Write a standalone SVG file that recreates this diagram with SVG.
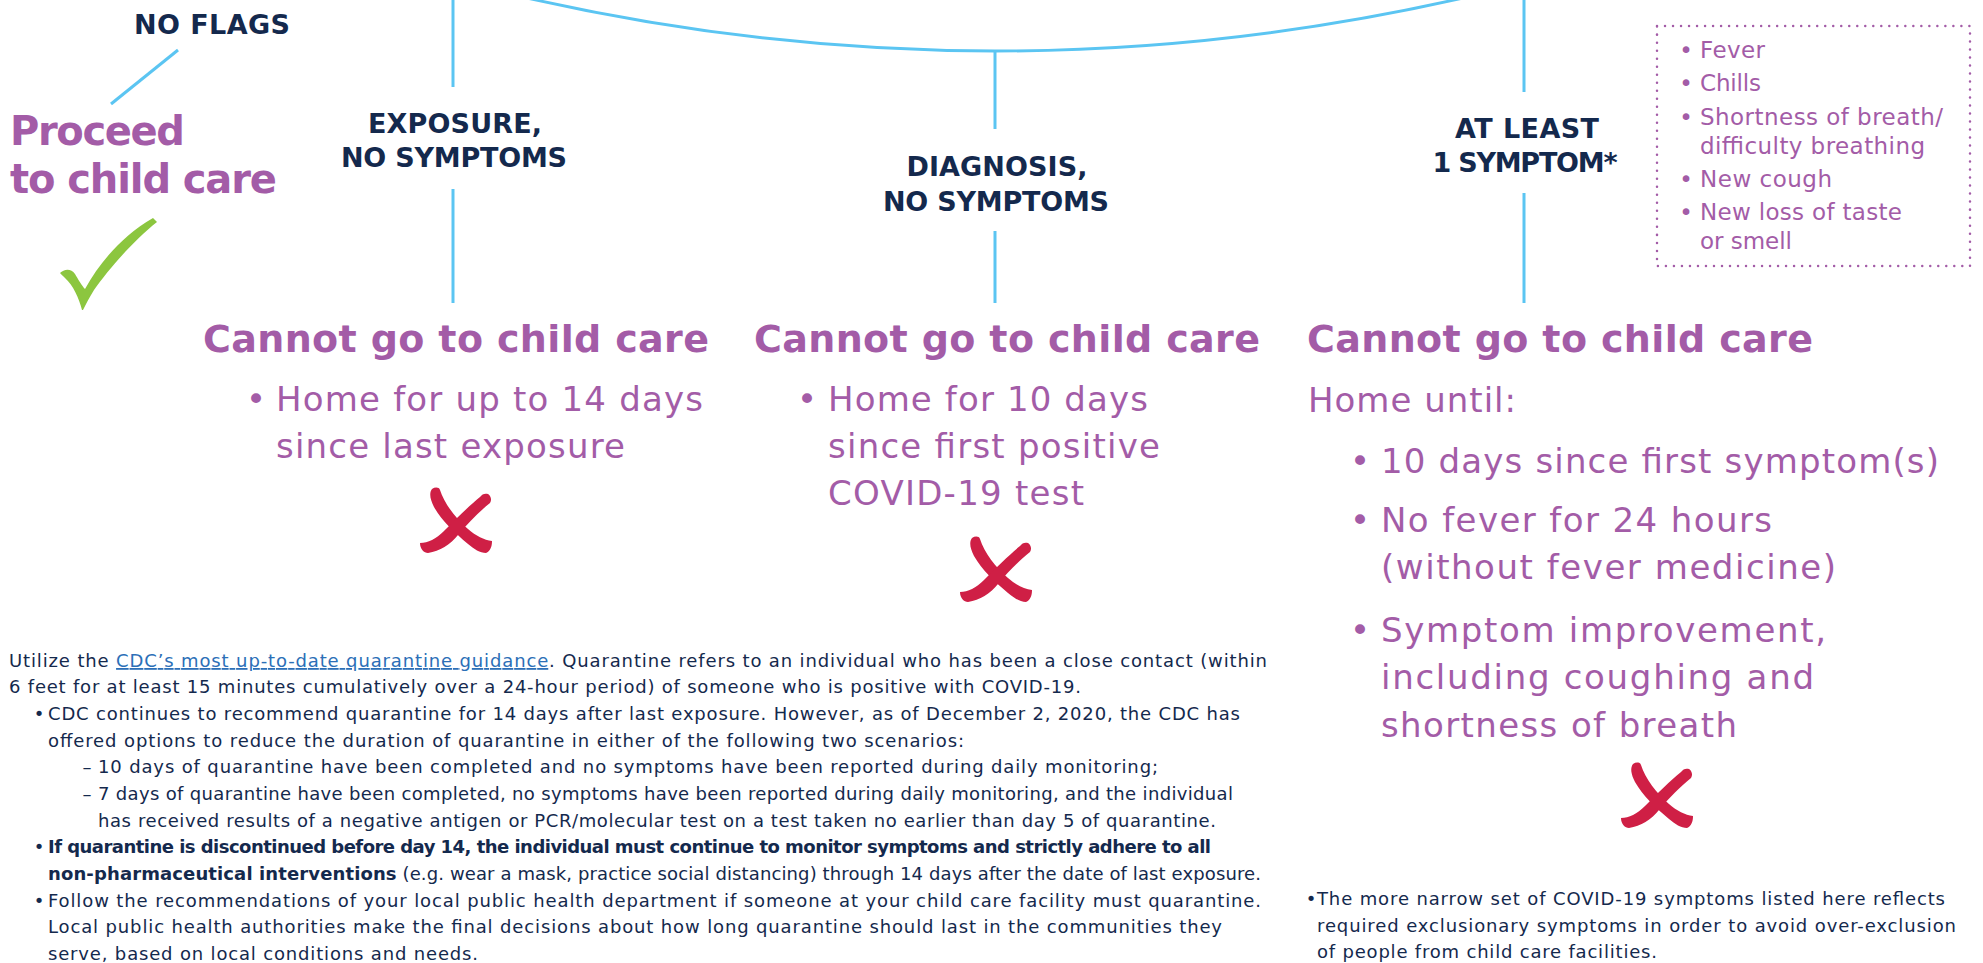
<svg xmlns="http://www.w3.org/2000/svg" xmlns:xlink="http://www.w3.org/1999/xlink" width="1983" height="963" viewBox="0 0 1983 963">
<style>
text{font-family:"DejaVu Sans","Liberation Sans",sans-serif}
.hd{font-weight:bold;font-size:27px;fill:#14294d;text-anchor:middle}
.pr{font-weight:bold;font-size:40px;fill:#a35ca7}
.big{font-weight:bold;font-size:38px;fill:#a35ca7}
.bl{font-size:34px;fill:#a35ca7}
.blt{font-size:34px;fill:#a35ca7;text-anchor:middle}
.sm{font-size:23px;fill:#a35ca7}
.smb{font-size:23px;fill:#a35ca7;text-anchor:middle}
.nt{font-size:18px;fill:#14294d}
.ntb{font-size:18px;fill:#14294d;text-anchor:middle}
.b{font-weight:bold}
.lk{fill:#2c6fb7;text-decoration:underline}
.ln{stroke:#5bc5f2;stroke-width:3;fill:none}
.x{fill:#cf1f45}
.ck{fill:#8cc63f}
</style>
<defs>
<g id="xmark">
<path d="M14,2 C17,0 21,0 22,3 C26,16 38,32 50,42 C58,49 66,53 74,54 C74,60 72,64 68,66 C62,66 56,62 50,57 C36,45 24,34 16,20 C12,12 11,6 14,2 Z"/>
<path d="M70,7 C73,9 74,13 72,16 C62,24 50,36 40,48 C32,58 22,64 10,66 C6,66 2,62 2,56 C10,56 18,52 26,44 C38,32 52,18 62,10 C64,7 67,6 70,7 Z"/>
</g>
</defs>
<rect width="1983" height="963" fill="#ffffff"/>

<g id="connectors">
<path class="ln" d="M470,-15.7 Q995,117.7 1520,-15.7"/>
<line class="ln" x1="453" y1="-2" x2="453" y2="87"/>
<line class="ln" x1="453" y1="189" x2="453" y2="303"/>
<line class="ln" x1="995" y1="51" x2="995" y2="129"/>
<line class="ln" x1="995" y1="231" x2="995" y2="303"/>
<line class="ln" x1="1524" y1="-2" x2="1524" y2="92"/>
<line class="ln" x1="1524" y1="193" x2="1524" y2="303"/>
<line class="ln" x1="178" y1="50" x2="111" y2="104"/>
</g>

<g id="no-flags">
<text class="hd" x="212" y="34" textLength="156">NO FLAGS</text>
</g>

<g id="proceed">
<text class="pr" x="10" y="145" textLength="175">Proceed</text>
<text class="pr" x="10" y="193" textLength="267">to child care</text>
<path class="ck" transform="translate(60,218)" d="M0,55 C4,51 11,50 15,56 C18,61 22,68 25,71 C40,44 62,18 93,0 L97,4 C74,22 48,52 34,72 C29,80 26,86 23,92 L22,92 C19,80 13,67 5,60 C3,58 1,56 0,55 Z"/>
</g>

<g id="exposure">
<text class="hd" x="455" y="133" textLength="174">EXPOSURE,</text>
<text class="hd" x="454" y="167" textLength="226">NO SYMPTOMS</text>
</g>

<g id="diagnosis">
<text class="hd" x="997" y="176" textLength="181">DIAGNOSIS,</text>
<text class="hd" x="996" y="211" textLength="226">NO SYMPTOMS</text>
</g>

<g id="symptom">
<text class="hd" x="1527" y="138" textLength="144">AT LEAST</text>
<text class="hd" x="1525" y="172" textLength="185">1 SYMPTOM*</text>
</g>

<g id="symptom-list">
<rect x="1657" y="26" width="313" height="240" fill="none" stroke="#a35ca7" stroke-width="2.5" stroke-linecap="round" stroke-dasharray="0.01 8"/>
<text class="smb" x="1686" y="58">•</text>
<text class="sm" x="1700" y="58" textLength="65">Fever</text>
<text class="smb" x="1686" y="91">•</text>
<text class="sm" x="1700" y="91" textLength="61">Chills</text>
<text class="smb" x="1686" y="125">•</text>
<text class="sm" x="1700" y="125" textLength="243">Shortness of breath/</text>
<text class="sm" x="1700" y="154" textLength="225">difficulty breathing</text>
<text class="smb" x="1686" y="187">•</text>
<text class="sm" x="1700" y="187" textLength="132">New cough</text>
<text class="smb" x="1686" y="220">•</text>
<text class="sm" x="1700" y="220" textLength="202">New loss of taste</text>
<text class="sm" x="1700" y="249" textLength="92">or smell</text>
</g>

<g id="outcome-exposure">
<text class="big" x="203" y="352" textLength="506">Cannot go to child care</text>
<text class="blt" x="256" y="411">•</text>
<text class="bl" x="276" y="411" textLength="427">Home for up to 14 days</text>
<text class="bl" x="276" y="458" textLength="349">since last exposure</text>
<use xlink:href="#xmark" class="x" transform="translate(418,487)"/>
</g>

<g id="outcome-diagnosis">
<text class="big" x="754" y="352" textLength="506">Cannot go to child care</text>
<text class="blt" x="807" y="411">•</text>
<text class="bl" x="828" y="411" textLength="320">Home for 10 days</text>
<text class="bl" x="828" y="458" textLength="332">since first positive</text>
<text class="bl" x="828" y="505" textLength="256">COVID-19 test</text>
<use xlink:href="#xmark" class="x" transform="translate(958,536)"/>
</g>

<g id="outcome-symptom">
<text class="big" x="1307" y="352" textLength="506">Cannot go to child care</text>
<text class="bl" x="1308" y="412" textLength="208">Home until:</text>
<text class="blt" x="1360" y="473">•</text>
<text class="bl" x="1381" y="473" textLength="558">10 days since first symptom(s)</text>
<text class="blt" x="1360" y="532">•</text>
<text class="bl" x="1381" y="532" textLength="391">No fever for 24 hours</text>
<text class="bl" x="1381" y="579" textLength="455">(without fever medicine)</text>
<text class="blt" x="1360" y="642">•</text>
<text class="bl" x="1381" y="642" textLength="445">Symptom improvement,</text>
<text class="bl" x="1381" y="689" textLength="433">including coughing and</text>
<text class="bl" x="1381" y="737" textLength="356">shortness of breath</text>
<use xlink:href="#xmark" class="x" transform="translate(1619,762)"/>
</g>

<g id="notes-left">
<text class="nt" x="9" y="667" textLength="1258">Utilize the <tspan class="lk">CDC’s most up-to-date quarantine guidance</tspan>. Quarantine refers to an individual who has been a close contact (within</text>
<text class="nt" x="9" y="693" textLength="1072">6 feet for at least 15 minutes cumulatively over a 24-hour period) of someone who is positive with COVID-19.</text>
<text class="ntb" x="39" y="720">•</text>
<text class="nt" x="48" y="720" textLength="1192">CDC continues to recommend quarantine for 14 days after last exposure. However, as of December 2, 2020, the CDC has</text>
<text class="nt" x="48" y="747" textLength="916">offered options to reduce the duration of quarantine in either of the following two scenarios:</text>
<text class="ntb" x="87" y="773">–</text>
<text class="nt" x="98" y="773" textLength="1060">10 days of quarantine have been completed and no symptoms have been reported during daily monitoring;</text>
<text class="ntb" x="87" y="800">–</text>
<text class="nt" x="98" y="800" textLength="1135">7 days of quarantine have been completed, no symptoms have been reported during daily monitoring, and the individual</text>
<text class="nt" x="98" y="827" textLength="1118">has received results of a negative antigen or PCR/molecular test on a test taken no earlier than day 5 of quarantine.</text>
<text class="ntb" x="39" y="853">•</text>
<text class="nt b" x="48" y="853" textLength="1163">If quarantine is discontinued before day 14, the individual must continue to monitor symptoms and strictly adhere to all</text>
<text class="nt" x="48" y="880" textLength="1213"><tspan class="b">non-pharmaceutical interventions</tspan> (e.g. wear a mask, practice social distancing) through 14 days after the date of last exposure.</text>
<text class="ntb" x="39" y="907">•</text>
<text class="nt" x="48" y="907" textLength="1213">Follow the recommendations of your local public health department if someone at your child care facility must quarantine.</text>
<text class="nt" x="48" y="933" textLength="1174">Local public health authorities make the final decisions about how long quarantine should last in the communities they</text>
<text class="nt" x="48" y="960" textLength="430">serve, based on local conditions and needs.</text>
</g>

<g id="notes-right">
<text class="ntb" x="1311" y="905">•</text>
<text class="nt" x="1317" y="905" textLength="628">The more narrow set of COVID-19 symptoms listed here reflects</text>
<text class="nt" x="1317" y="932" textLength="639">required exclusionary symptoms in order to avoid over-exclusion</text>
<text class="nt" x="1317" y="958" textLength="340">of people from child care facilities.</text>
</g>
</svg>
